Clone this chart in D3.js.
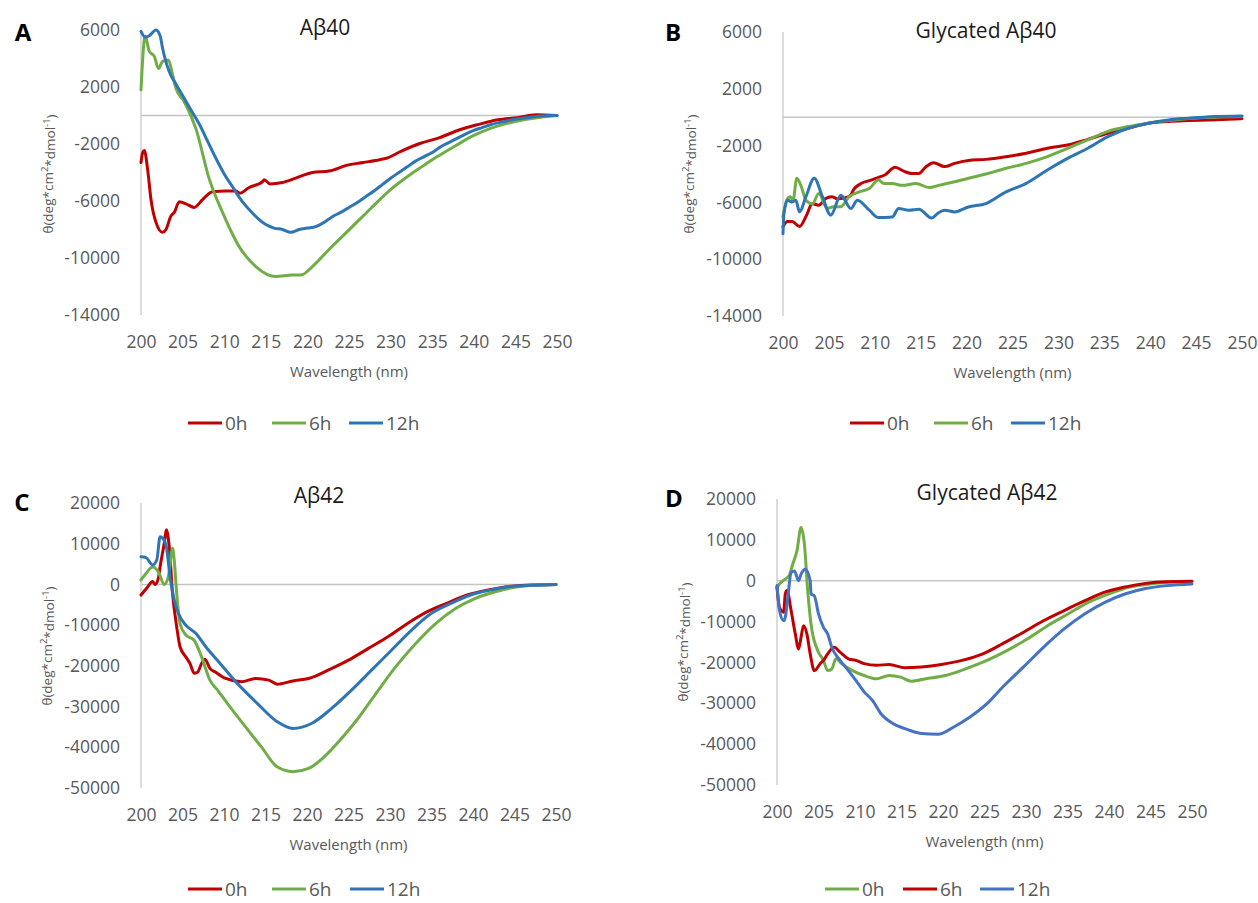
<!DOCTYPE html>
<html>
<head>
<meta charset="utf-8">
<script src="https://cdn.jsdelivr.net/npm/d3@7"></script>
<style>
  html, body { margin: 0; padding: 0; background: #ffffff; }
  svg { display: block; font-family: "Open Sans", "Noto Sans", sans-serif; }
</style>
</head>
<body>
<svg id="chart" width="1258" height="903"></svg>
<script>
// ---------------- DATA ----------------
const xTicks = [200, 205, 210, 215, 220, 225, 230, 235, 240, 245, 250];
const yTicks40 = [6000, 2000, -2000, -6000, -10000, -14000];
const yTicks42 = [20000, 10000, 0, -10000, -20000, -30000, -40000, -50000];
const timeLabels = ["0h", "6h", "12h"];

// Panel A: Aβ40  [wavelength nm, θ]
const a0h = [[200,-3300],[200.2,-2600],[200.4,-2450],[200.8,-3800],[201.2,-5900],[201.8,-7500],[202.6,-8200],[203,-8000],[203.6,-7050],[204,-6800],[204.6,-6050],[205.4,-6200],[206.4,-6450],[207.4,-5900],[208.6,-5350],[210.2,-5300],[211.4,-5300],[211.9,-5450],[213,-5050],[214.6,-4650],[214.8,-4500],[215.5,-4800],[217,-4700],[218.6,-4400],[220.6,-4000],[222.6,-3900],[224.7,-3500],[226.7,-3300],[228.7,-3100],[229.5,-3000],[231.3,-2500],[233.6,-1950],[235.9,-1550],[238.3,-1000],[240.6,-620],[242.9,-300],[245.2,-150],[247.5,50],[250,0]];
const a6h = [[200,1800],[200.5,5560],[201,4500],[201.6,4150],[202.1,3300],[202.6,3800],[203.3,3900],[203.8,2850],[204.2,1900],[205.2,970],[206.6,-920],[208.2,-4450],[209.8,-6800],[211.8,-9200],[213.8,-10600],[216.2,-11300],[218.2,-11200],[219.2,-11200],[220.6,-10600],[222.6,-9400],[224.7,-8200],[226.7,-7050],[228.7,-5900],[230,-5200],[232,-4300],[234,-3500],[235,-3100],[236,-2750],[238,-2050],[240,-1400],[242,-900],[244,-550],[246,-300],[248,-120],[250,0]];
const a12h = [[200,5900],[200.5,5500],[201,5600],[201.8,6000],[202.3,5600],[202.6,4700],[203.6,2800],[204,2400],[205,1400],[206.4,0],[207,-600],[208,-1800],[209,-3000],[210,-4100],[211,-5000],[212,-5900],[213,-6600],[214,-7200],[215,-7650],[216,-7900],[217,-8000],[218,-8200],[219,-8000],[220,-7900],[221,-7800],[222,-7500],[223,-7100],[224,-6800],[225,-6450],[226,-6100],[227,-5700],[228,-5300],[229,-4850],[230,-4400],[231,-4000],[232,-3600],[233,-3200],[234,-2900],[235,-2600],[236,-2200],[237,-1900],[238,-1600],[239,-1300],[240,-1050],[241,-850],[242,-650],[243,-500],[244,-380],[245,-270],[246,-180],[247,-100],[248,-40],[249,0],[250,0]];

// Panel B: Glycated Aβ40
const b0h = [[200,-7700],[200.5,-7350],[201,-7350],[201.8,-7700],[202.5,-7000],[203.2,-6100],[203.9,-6200],[204.6,-5750],[205.3,-5600],[206,-5750],[207.2,-5600],[207.8,-5000],[208.5,-4670],[209.6,-4430],[210.4,-4240],[211.1,-4070],[212.2,-3530],[213.3,-3840],[214,-3960],[214.8,-3960],[215.5,-3530],[216.4,-3200],[217.6,-3480],[218.7,-3250],[220.2,-3050],[222.1,-2970],[224.3,-2780],[226.5,-2540],[228.8,-2190],[231,-1960],[233.2,-1560],[235.4,-1130],[237.6,-780],[239.8,-420],[242,-300],[244.2,-240],[246.5,-190],[250,-100]];
const b6h = [[200,-7000],[200.4,-5840],[200.8,-5600],[201.1,-5850],[201.5,-4300],[202,-4900],[202.5,-5850],[203.2,-6100],[203.9,-5380],[204.8,-6430],[205.5,-6300],[206.3,-6300],[207.2,-5600],[208.3,-5260],[209.4,-5020],[210.4,-4430],[211,-4670],[211.9,-4670],[213,-4800],[214.5,-4670],[215.9,-4950],[217,-4800],[218.7,-4550],[220.2,-4300],[222.1,-4000],[224.3,-3600],[226.5,-3250],[228.8,-2780],[231,-2190],[233.2,-1600],[235.4,-1000],[237.6,-660],[239.8,-420],[242,-240],[244.2,-100],[246.5,0],[250,50]];
const b12h = [[200,-8200],[200.1,-6800],[200.5,-5850],[201,-5970],[201.4,-5850],[201.8,-6670],[202.5,-5600],[203.4,-4300],[204.3,-5600],[205.2,-6900],[206.3,-5500],[207.4,-6430],[208.1,-5840],[209.4,-6550],[210.4,-7070],[211.9,-7020],[212.6,-6430],[213.7,-6550],[214.8,-6480],[216.2,-7100],[216.9,-6740],[217.6,-6550],[218.7,-6670],[220.2,-6320],[222.1,-6080],[224.3,-5260],[226.5,-4660],[228.8,-3720],[231,-2900],[233.2,-2190],[235.4,-1370],[237.6,-780],[239.8,-420],[242,-190],[244.2,-70],[246.5,40],[250,90]];

// Panel C: Aβ42
const c0h = [[200,-2600],[200.66,-1000],[201.4,700],[201.7,0],[202.1,1600],[202.3,4300],[202.8,10100],[203.05,13400],[203.4,9300],[203.8,-2200],[204.3,-10400],[204.7,-15300],[205.4,-17800],[205.9,-19400],[206.4,-21800],[206.8,-21600],[207.3,-19400],[207.7,-18400],[208.3,-20600],[209,-21600],[210.2,-23100],[212.1,-23900],[213.8,-23100],[215.4,-23500],[216.4,-24500],[218.3,-23700],[220.2,-23100],[222.6,-21000],[225,-18600],[227.4,-15700],[229.8,-12800],[232.1,-9600],[234.5,-6700],[236.9,-4600],[239.3,-2600],[241.7,-1400],[244.1,-560],[246.4,-200],[250,0]];
const c6h = [[200,1100],[200.6,2700],[201.4,4300],[202.1,3100],[202.8,0],[203.3,1900],[203.8,8900],[204,6000],[204.3,-2200],[204.7,-9600],[205.4,-12400],[206.4,-13700],[207.3,-17800],[208.3,-23500],[209.2,-25900],[210.7,-30000],[212.6,-35000],[214.5,-39900],[216.4,-44800],[218.3,-46000],[220.2,-45200],[222.1,-42300],[224,-38200],[226,-33300],[228.3,-26800],[230.7,-20200],[233.1,-14500],[235.5,-9600],[237.9,-5900],[240.3,-3400],[242.7,-1800],[245,-700],[247.4,-200],[250,0]];
const c12h = [[200,6800],[200.6,6600],[201.4,4800],[201.9,6000],[202.3,11700],[202.65,11300],[203.05,9300],[203.5,1900],[204,-3800],[204.5,-7100],[205.4,-10000],[206.6,-12000],[207.8,-15300],[209.2,-18600],[211.6,-24300],[214,-29200],[216.4,-33700],[218.3,-35400],[220.6,-34100],[223,-30400],[225.4,-25900],[227.8,-21000],[230.2,-16100],[232.6,-11200],[235,-7100],[237.4,-4600],[239.7,-2600],[242.1,-1400],[244.5,-500],[247,-200],[250,0]];

// Panel D: Glycated Aβ42
const d0h = [[200,-1600],[200.47,-400],[201,400],[201.45,1200],[201.9,4100],[202.4,7300],[202.9,13000],[203.3,9000],[203.7,-2400],[204.1,-10600],[204.9,-17100],[205.6,-19500],[206.1,-22000],[206.6,-21600],[207.1,-19100],[207.8,-20300],[209.1,-22000],[210.5,-23200],[212,-24000],[213.5,-23200],[214.9,-23600],[216.2,-24600],[217.9,-24000],[220.3,-23200],[222.8,-21500],[225.3,-19500],[227.7,-17100],[230.2,-14200],[232.6,-11000],[235.1,-8100],[237.5,-5300],[240,-3200],[242.4,-1600],[244.9,-800],[247.3,-400],[250,-200]];
const d6h = [[200,-1600],[200.3,-6500],[200.8,-7700],[201,-3200],[201.2,-2400],[201.7,-7300],[202.2,-13000],[202.6,-16700],[202.9,-13800],[203.2,-11000],[203.6,-13000],[204,-17900],[204.5,-22000],[205.2,-20300],[205.6,-19500],[206.1,-17900],[206.9,-16300],[207.6,-17500],[208.6,-19100],[209.5,-19500],[210.5,-20300],[212,-20700],[213.5,-20500],[215.4,-21300],[217.4,-21100],[219.8,-20500],[222.3,-19500],[224.8,-17900],[227.2,-15400],[229.7,-12600],[232.1,-9800],[234.6,-7300],[237.1,-4900],[239.5,-2800],[242,-1500],[244.4,-650],[246.9,-250],[250,-150]];
const d12h = [[200,-1200],[200.3,-7300],[200.8,-9800],[201,-8900],[201.35,-3200],[201.7,2000],[202.1,2400],[202.6,0],[202.9,1600],[203.4,2800],[204,0],[204.1,-3200],[204.5,-3700],[205,-8100],[205.6,-11400],[206.1,-13000],[206.6,-16300],[207.6,-19500],[208.6,-22000],[209.5,-24400],[210.5,-27200],[211.5,-29300],[212.5,-32500],[214,-35000],[215.4,-36200],[217.4,-37400],[219.4,-37600],[221.3,-35800],[223.3,-33300],[225.3,-30100],[227.2,-26000],[229.7,-21100],[232.1,-16300],[234.6,-11800],[237.1,-8100],[239.5,-5300],[242,-3200],[244.4,-1900],[246.9,-1200],[250,-800]];

// ---------------- STYLE / LAYOUT ----------------
const RED = "#C00000", GREEN = "#70AD47", BLUE = "#2E75B6", BLUE2 = "#4472C4";

const panels = [
  { letter: "A", title: "Aβ40", yDomain: [-14000, 6000], yTicks: yTicks40,
    series: [{name: timeLabels[0], data: a0h, color: RED}, {name: timeLabels[1], data: a6h, color: GREEN}, {name: timeLabels[2], data: a12h, color: BLUE}],
    L: 141, R: 557, T: 30, B: 315, titleX: 325, titleY: 28, letterX: 23, letterY: 32, yTitleX: 48, yTitleY: 174, legX: 188, legY: 423, legOff: [0, 84, 161] },
  { letter: "B", title: "Glycated Aβ40", yDomain: [-14000, 6000], yTicks: yTicks40,
    series: [{name: timeLabels[0], data: b0h, color: RED}, {name: timeLabels[1], data: b6h, color: GREEN}, {name: timeLabels[2], data: b12h, color: BLUE}],
    L: 783, R: 1242, T: 32, B: 316, titleX: 986, titleY: 31, letterX: 673, letterY: 32, yTitleX: 689, yTitleY: 174, legX: 850, legY: 423, legOff: [0, 84, 161] },
  { letter: "C", title: "Aβ42", yDomain: [-50000, 20000], yTicks: yTicks42,
    series: [{name: timeLabels[0], data: c0h, color: RED}, {name: timeLabels[1], data: c6h, color: GREEN}, {name: timeLabels[2], data: c12h, color: BLUE}],
    L: 141, R: 556, T: 503, B: 788, titleX: 319, titleY: 496, letterX: 22, letterY: 502, yTitleX: 47, yTitleY: 646, legX: 188, legY: 889, legOff: [0, 84, 162] },
  { letter: "D", title: "Glycated Aβ42", yDomain: [-50000, 20000], yTicks: yTicks42,
    series: [{name: timeLabels[0], data: d0h, color: GREEN}, {name: timeLabels[1], data: d6h, color: RED}, {name: timeLabels[2], data: d12h, color: BLUE2}],
    L: 777, R: 1192, T: 499, B: 785, titleX: 987, titleY: 493, letterX: 674, letterY: 498, yTitleX: 683, yTitleY: 642, legX: 825, legY: 889, legOff: [0, 78, 155] }
];

const svg = d3.select("#chart");
const GRAY = "#595959";

panels.forEach(p => {
  const g = svg.append("g");
  const x = d3.scaleLinear().domain([200, 250]).range([p.L, p.R]);
  const y = d3.scaleLinear().domain(p.yDomain).range([p.B, p.T]);

  // vertical axis line
  g.append("line").attr("x1", x(200)).attr("x2", x(200)).attr("y1", y(p.yDomain[1])).attr("y2", y(p.yDomain[0]))
    .attr("stroke", "#d0d0d0").attr("stroke-width", 1.5);
  // zero line
  g.append("line").attr("x1", x(200)).attr("x2", x(250)).attr("y1", y(0)).attr("y2", y(0))
    .attr("stroke", "#c4c4c4").attr("stroke-width", 1.5);

  // y axis labels
  const yAxis = d3.axisLeft(y).tickValues(p.yTicks).tickSize(0).tickPadding(21).tickFormat(d => String(d));
  const ya = g.append("g").attr("transform", `translate(${x(200)},0)`).call(yAxis);
  ya.select(".domain").remove();
  ya.selectAll("text").attr("fill", GRAY).style("font-size", "17.5px").style("font-family", "'Open Sans', sans-serif");

  // x axis labels
  const xAxis = d3.axisBottom(x).tickValues(xTicks).tickSize(0).tickPadding(21).tickFormat(d => String(d));
  const xa = g.append("g").attr("transform", `translate(0,${p.B})`).call(xAxis);
  xa.select(".domain").remove();
  xa.selectAll("text").attr("fill", GRAY).style("font-size", "17.5px").style("font-family", "'Open Sans', sans-serif");

  // x axis title
  g.append("text").attr("x", (p.L + p.R) / 2).attr("y", p.B + 57).attr("dy", "0.35em")
    .attr("text-anchor", "middle").attr("fill", GRAY).style("font-size", "15px").text("Wavelength (nm)");

  // y axis title
  const yt = g.append("text").attr("transform", `translate(${p.yTitleX},${p.yTitleY}) rotate(-90)`)
    .attr("text-anchor", "middle").attr("dy", "0.35em").attr("fill", GRAY).style("font-size", "13.5px");
  yt.append("tspan").text("θ(deg*cm");
  yt.append("tspan").attr("dy", "-0.45em").style("font-size", "9.5px").text("2");
  yt.append("tspan").attr("dy", "0.45em").text("*dmol");
  yt.append("tspan").attr("dy", "-0.45em").style("font-size", "9.5px").text("-1");
  yt.append("tspan").attr("dy", "0.45em").text(")");

  // title
  g.append("text").attr("x", p.titleX).attr("y", p.titleY).attr("dy", "0.35em").attr("text-anchor", "middle")
    .attr("fill", "#1a1a1a").style("font-size", "21px").text(p.title);
  // panel letter
  g.append("text").attr("x", p.letterX).attr("y", p.letterY).attr("dy", "0.36em").attr("text-anchor", "middle")
    .attr("fill", "#000").style("font-size", "24px").style("font-weight", "bold").text(p.letter);

  // series lines
  const line = d3.line().x(d => x(d[0])).y(d => y(d[1])).curve(d3.curveMonotoneX);
  p.series.forEach(s => {
    g.append("path").datum(s.data).attr("d", line).attr("fill", "none")
      .attr("stroke", s.color).attr("stroke-width", 3).attr("stroke-linejoin", "round").attr("stroke-linecap", "round");
  });

  // legend
  p.series.forEach((s, i) => {
    const lx = p.legX + p.legOff[i];
    g.append("line").attr("x1", lx).attr("x2", lx + 34).attr("y1", p.legY).attr("y2", p.legY)
      .attr("stroke", s.color).attr("stroke-width", 3);
    g.append("text").attr("x", lx + 37).attr("y", p.legY).attr("dy", "0.36em").attr("fill", GRAY)
      .style("font-size", "19px").text(s.name);
  });
});
</script>
</body>
</html>
